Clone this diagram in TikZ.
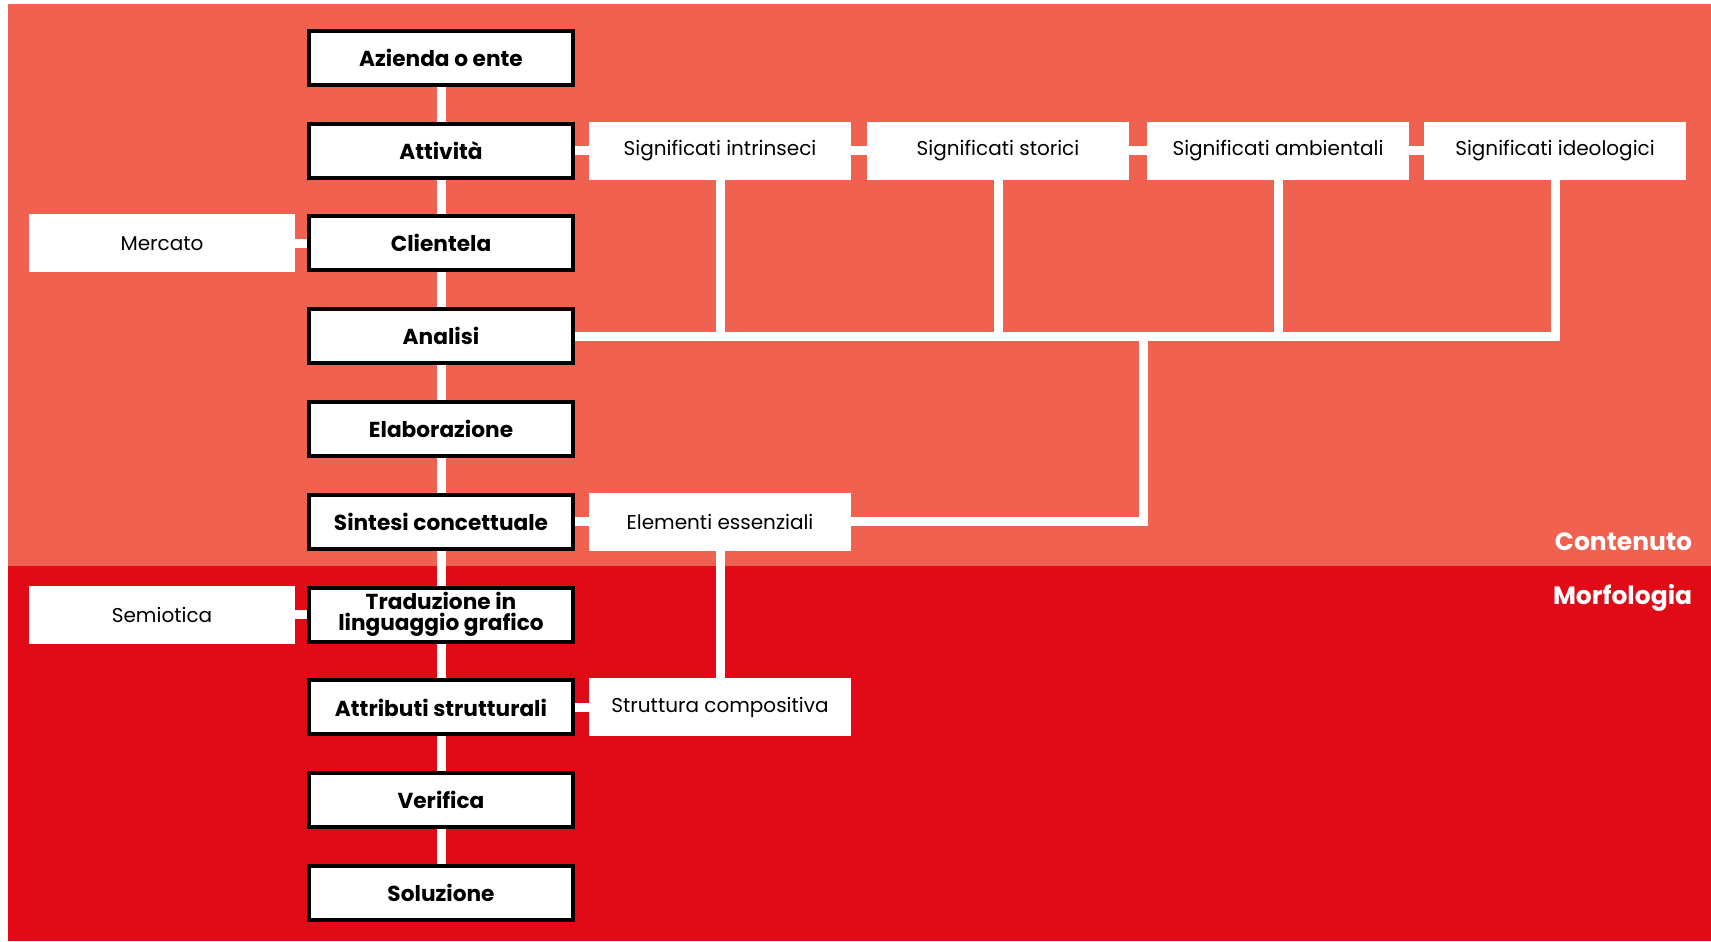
\documentclass[tikz,border=0pt]{standalone}
\usepackage{fontspec}
\setmainfont{Poppins}
\definecolor{lightred}{RGB}{240,97,80}
\definecolor{darkred}{RGB}{224,11,22}
\pgfdeclarelayer{bg}
\pgfdeclarelayer{lk}
\pgfsetlayers{bg,lk,main}
\begin{document}
\begin{tikzpicture}[x=0.6pt,y=-0.6pt,
  mainbox/.style={draw=black, line width=2.4pt, fill=white, minimum width=158.4pt, minimum height=32.4pt, inner sep=0pt, align=center, font=\bfseries\fontsize{13}{12.5}\selectfont},
  sidebox/.style={fill=white, minimum width=157.2pt, minimum height=34.8pt, inner sep=0pt, align=center, font=\fontsize{12}{14}\selectfont},
  leftbox/.style={sidebox, minimum width=159.6pt},
  link/.style={draw=white, line width=5.4pt},
  zone/.style={text=white, anchor=east, font=\bfseries\fontsize{15}{17}\selectfont}
]
\useasboundingbox (0,0) rectangle (1711,941);
\begin{pgfonlayer}{bg}
\fill[white] (0,0) rectangle (1711,941);
\fill[lightred] (8,4) rectangle (1711,566);
\fill[darkred] (8,566) rectangle (1711,941);
\end{pgfonlayer}

% main column
\node[mainbox] (n1) at (441,57.8) {Azienda o ente};
\node[mainbox] (n2) at (441,150.6) {Attività};
\node[mainbox] (n3) at (441,243.4) {Clientela};
\node[mainbox] (n4) at (441,336.2) {Analisi};
\node[mainbox] (n5) at (441,429) {Elaborazione};
\node[mainbox] (n6) at (441,521.8) {Sintesi concettuale};
\node[mainbox] (n7) at (441,614.6) {Traduzione in\\linguaggio grafico};
\node[mainbox] (n8) at (441,707.4) {Attributi strutturali};
\node[mainbox] (n9) at (441,800.2) {Verifica};
\node[mainbox] (n10) at (441,893) {Soluzione};

% meanings row
\node[sidebox] (s1) at (720,150.6) {Significati intrinseci};
\node[sidebox] (s2) at (998,150.6) {Significati storici};
\node[sidebox] (s3) at (1278,150.6) {Significati ambientali};
\node[sidebox] (s4) at (1555,150.6) {Significati ideologici};

% side boxes
\node[leftbox] (m1) at (162,243.4) {Mercato};
\node[leftbox] (m2) at (162,614.6) {Semiotica};
\node[sidebox] (e1) at (720,521.8) {Elementi essenziali};
\node[sidebox] (e2) at (720,707.4) {Struttura compositiva};

\coordinate (j) at (1143,336.2);

% zone labels
\node[zone] (zc) at (1698,542) {Contenuto};
\node[zone] (zm) at (1698,598) {Morfologia};

\begin{pgfonlayer}{lk}
\draw[link] (n1.center) -- (n10.center);
\draw[link] (n2.center) -- (s4.center);
\draw[link] (n4.center) -| (s4.center);
\draw[link] (s1.center) -- (s1.center |- n4.center);
\draw[link] (s2.center) -- (s2.center |- n4.center);
\draw[link] (s3.center) -- (s3.center |- n4.center);
\draw[link] (j) |- (e1.center);
\draw[link] (e1.center) -- (e2.center);
\draw[link] (n6.center) -- (e1.center);
\draw[link] (n8.center) -- (e2.center);
\draw[link] (m1.center) -- (n3.center);
\draw[link] (m2.center) -- (n7.center);
\end{pgfonlayer}
\end{tikzpicture}
\end{document}
